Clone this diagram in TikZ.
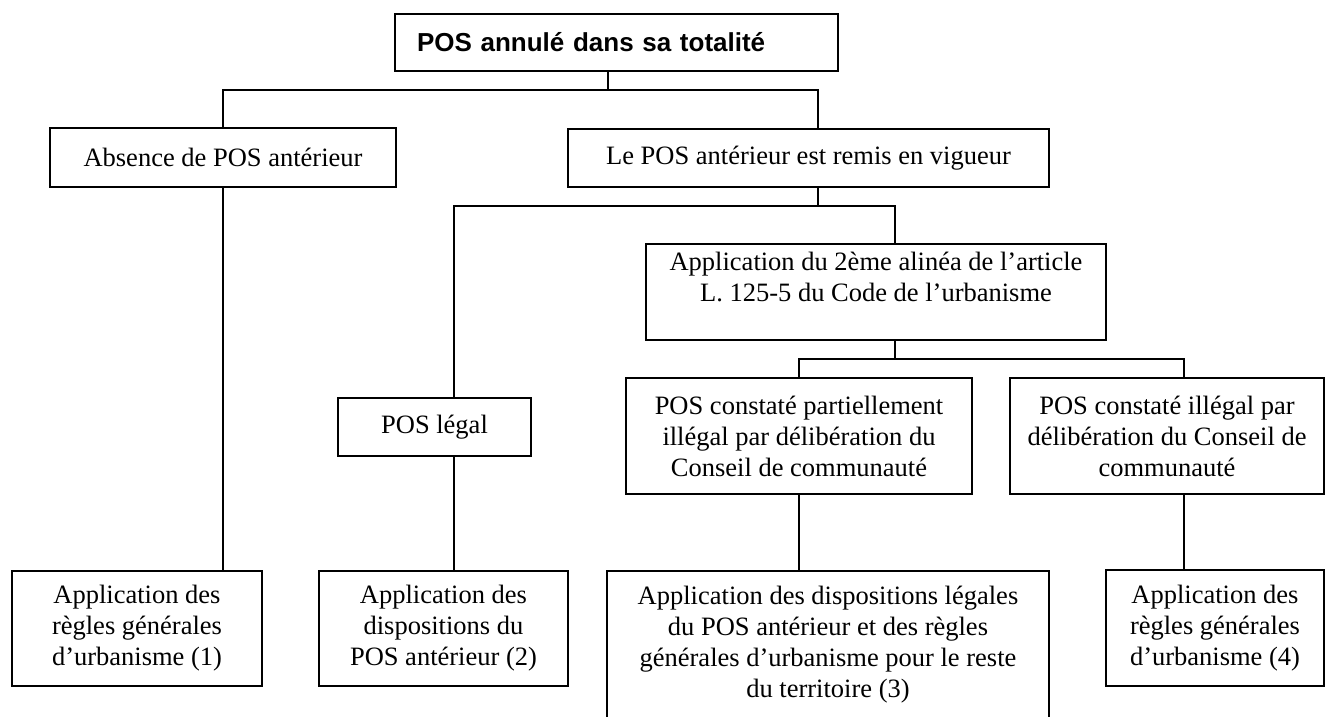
\documentclass[tikz,border=0pt]{standalone}
\usepackage{fontspec}
\usepackage{tikz}
\setmainfont{Liberation Serif}
\newfontfamily\titrefont{Liberation Sans}

\tikzset{
    cadre/.style={draw, line width=1.6pt, inner sep=0pt, align=center, font=\fontsize{26.5}{31}\selectfont},
    trait/.style={line width=1.6pt}
}

\begin{document}
\begin{tikzpicture}[x=1pt, y=-1pt]
        \useasboundingbox (0, 0) rectangle (1328, 717);
        \node[cadre, text width=399pt, inner xsep=22pt, minimum height=57pt, align=left, font=\titrefont\bfseries\fontsize{26}{31}\selectfont] (titre) at (616.5, 42.5) {POS annulé dans sa totalité};
        \node[cadre, minimum width=346pt, minimum height=59pt] (absence) at (223, 157.5) {Absence de POS antérieur};
        \node[cadre, minimum width=481pt, minimum height=58pt] (remis) at (808.5, 158) {Le POS antérieur est remis en vigueur};
        \node[cadre, minimum width=460pt, minimum height=96pt] (article) at (876, 292) {Application du 2ème alinéa de l’article\\L. 125-5 du Code de l’urbanisme\\\mbox{}};
        \node[cadre, minimum width=193pt, minimum height=58pt] (legal) at (434.5, 427) {POS légal};
        \node[cadre, minimum width=346pt, minimum height=116pt] (partiel) at (799, 436) {POS constaté partiellement\\illégal par délibération du\\Conseil de communauté};
        \node[cadre, minimum width=314pt, minimum height=116pt] (illegal) at (1167, 436) {POS constaté illégal par\\délibération du Conseil de\\communauté};
        \node[cadre, minimum width=250pt, minimum height=115pt] (regles1) at (137, 628.5) {Application des\\règles générales\\d’urbanisme (1)};
        \node[cadre, minimum width=249pt, minimum height=115pt] (dispo) at (443.5, 628.5) {Application des\\dispositions du\\POS antérieur (2)};
        \node[cadre, minimum width=442pt, minimum height=148pt] (mixte) at (828, 645) {Application des dispositions légales\\du POS antérieur et des règles\\générales d’urbanisme pour le reste\\du territoire (3)};
        \node[cadre, minimum width=218pt, minimum height=116pt] (regles4) at (1215, 628) {Application des\\règles générales\\d’urbanisme (4)};

        \coordinate (b1) at (608, 90);
        \coordinate (b1l) at (223, 90);
        \coordinate (b1r) at (818, 90);
        \coordinate (b2l) at (454, 206);
        \coordinate (b2r) at (895, 206);
        \coordinate (b3l) at (799, 359);
        \coordinate (b3r) at (1184, 359);

        \draw[trait] (titre.south -| b1) -- (b1);
        \draw[trait] (absence.north) -- (b1l) -- (b1r) -- (remis.north -| b1r);
        \draw[trait] (absence.south) -- (regles1.north -| absence.south);
        \draw[trait] (remis.south -| b1r) -- (b1r |- b2l);
        \draw[trait] (legal.north -| b2l) -- (b2l) -- (b2r) -- (article.north -| b2r);
        \draw[trait] (legal.south -| b2l) -- (dispo.north -| b2l);
        \draw[trait] (article.south -| b2r) -- (b2r |- b3l);
        \draw[trait] (partiel.north) -- (b3l) -- (b3r) -- (illegal.north -| b3r);
        \draw[trait] (partiel.south) -- (mixte.north -| partiel.south);
        \draw[trait] (illegal.south -| b3r) -- (regles4.north -| b3r);
    \end{tikzpicture}
\end{document}
